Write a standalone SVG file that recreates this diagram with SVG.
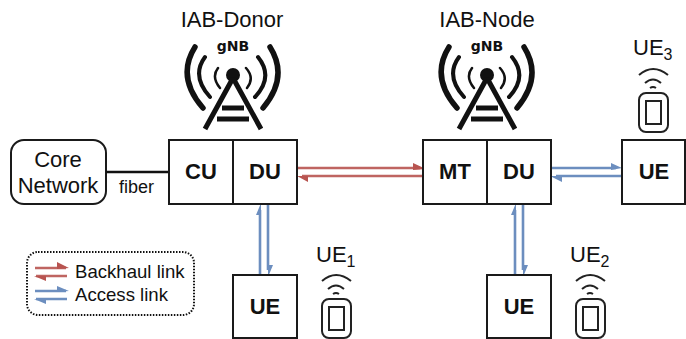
<svg xmlns="http://www.w3.org/2000/svg" width="686" height="339" viewBox="0 0 686 339">
<style>
text{font-family:"Liberation Sans",Arial,sans-serif;fill:#111}
.box{fill:#fff;stroke:#1a1a1a;stroke-width:2}
.b{font-weight:bold;font-size:22px;text-anchor:middle}
.l{font-size:22px;text-anchor:middle}
.red{stroke:#b85450;stroke-width:2.6;fill:none;opacity:.9}
.blue{stroke:#6c8ebf;stroke-width:2.6;fill:none}
.rh{fill:#b85450}
.bh{fill:#6c8ebf}
.t{fill:none;stroke:#111;stroke-linecap:round}
.p{fill:none;stroke:#222;stroke-width:2}
</style>
<defs>
<g id="tower">
<path class="t" stroke-width="5.5" d="M195 47Q176 77 203 108M270 47Q289 77 263 108"/>
<path class="t" stroke-width="4" d="M205 57Q191 76 210 97M258 57Q274 77 255 97"/>
<path class="t" stroke-width="2.5" d="M218 68Q211 77 220 88M246 68Q255 78 247 88"/>
<circle cx="233" cy="75" r="7" fill="#111"/>
<path class="t" stroke-width="5" d="M233 78L205 129M233 78L261 129M222 108H244M217 119H249" style="stroke-linecap:butt"/>
<text x="233" y="51" text-anchor="middle" style="font-family:'DejaVu Sans',sans-serif;font-weight:bold;font-size:14px">gNB</text>
</g>
<g id="phone">
<path class="p" d="M322 281Q336 269 351 281"/>
<path class="p" d="M328 289Q336 282 344 289"/>
<path class="p" d="M333 294Q336 292 339 294"/>
<rect class="p" x="322" y="299" width="29" height="39" rx="7"/>
<rect class="p" x="329" y="307" width="15" height="23"/>
</g>
</defs>
<g id="core"><rect class="box" x="11" y="140" width="95" height="64" rx="13"/><text class="l" x="58" y="167">Core</text><text class="l" x="58" y="193">Network</text></g>
<g id="connectors">
<path d="M106 172H169" stroke="#111" stroke-width="2.6"/>
<path class="red" d="M297 168H420M423 176H302"/>
<path class="rh" d="M413 163L426 169L413 170ZM297 176L308 176L308 182Z"/>
<path class="blue" d="M552 168H616M621 176H556"/>
<path class="bh" d="M611 163L622 168L611 170ZM550 176L562 176L562 182Z"/>
<path class="blue" d="M260 275V210M268 205V270"/>
<path class="bh" d="M261 203L256 215L261 215ZM268 277L273 265L268 265Z"/>
<path class="blue" d="M515 275V210M523 205V270"/>
<path class="bh" d="M516 203L511 215L516 215ZM523 277L528 265L523 265Z"/>
</g>
<g id="iab-donor"><text class="l" x="232" y="27">IAB-Donor</text><use href="#tower"/>
<rect class="box" x="169" y="140" width="64" height="64"/><rect class="box" x="233" y="140" width="64" height="64"/>
<text class="b" x="201" y="179">CU</text><text class="b" x="265" y="179">DU</text></g>
<g id="iab-node"><text class="l" x="487" y="27">IAB-Node</text><use href="#tower" x="254"/>
<rect class="box" x="423" y="140" width="64" height="64"/><rect class="box" x="487" y="140" width="64" height="64"/>
<text class="b" x="455" y="179">MT</text><text class="b" x="519" y="179">DU</text></g>
<g id="ue3"><rect class="box" x="622" y="140" width="63" height="64"/><text class="b" x="654" y="179">UE</text>
<text x="633" y="55" font-size="22">UE<tspan font-size="16" dy="5">3</tspan></text><use href="#phone" x="317" y="-206"/></g>
<g id="ue1"><rect class="box" x="233" y="275" width="64" height="63"/><text class="b" x="265" y="314">UE</text>
<text x="316" y="262" font-size="22">UE<tspan font-size="16" dy="5">1</tspan></text><use href="#phone"/></g>
<g id="ue2"><rect class="box" x="487" y="275" width="64" height="63"/><text class="b" x="519" y="314">UE</text>
<text x="570" y="262" font-size="22">UE<tspan font-size="16" dy="5">2</tspan></text><use href="#phone" x="254"/></g>
<text x="119" y="193" font-size="18">fiber</text>
<g id="legend"><rect x="27" y="252" width="167" height="63" rx="11" fill="none" stroke="#111" stroke-width="2" stroke-dasharray="1.5 1.5"/>
<path class="red" d="M35 268H66M67 276H36"/><path class="rh" d="M57 262L69 268L57 269ZM34 276L46 276L46 281Z"/>
<path class="blue" d="M35 291H66M67 299H36"/><path class="bh" d="M57 286L69 291L57 292ZM34 299L46 299L46 304Z"/>
<text x="75" y="278" font-size="18.6">Backhaul link</text><text x="75" y="301" font-size="18.6">Access link</text></g>
</svg>
